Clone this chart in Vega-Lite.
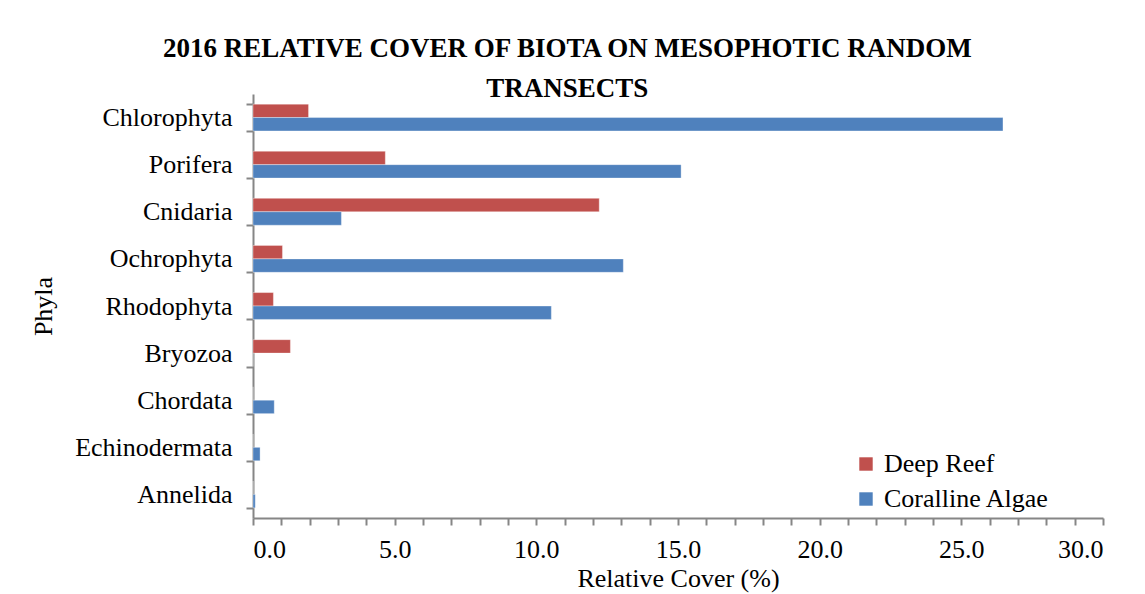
{
  "$schema": "https://vega.github.io/schema/vega-lite/v6.json",
  "width": 850,
  "height": 424,
  "padding": {"left": 30, "top": 35, "right": 10, "bottom": 5},
  "background": "white",
  "title": {
    "text": ["2016 RELATIVE COVER OF BIOTA ON MESOPHOTIC RANDOM", "TRANSECTS"],
    "font": "Liberation Serif, serif",
    "fontSize": 27,
    "fontWeight": "bold",
    "color": "#000000",
    "anchor": "middle",
    "frame": "bounds",
    "lineHeight": 40,
    "offset": -22
  },
  "data": {
    "values": [
      {"phylum": "Chlorophyta", "site": "Deep Reef", "cover": 1.96},
      {"phylum": "Chlorophyta", "site": "Coralline Algae", "cover": 26.47},
      {"phylum": "Porifera", "site": "Deep Reef", "cover": 4.67},
      {"phylum": "Porifera", "site": "Coralline Algae", "cover": 15.11},
      {"phylum": "Cnidaria", "site": "Deep Reef", "cover": 12.22},
      {"phylum": "Cnidaria", "site": "Coralline Algae", "cover": 3.12},
      {"phylum": "Ochrophyta", "site": "Deep Reef", "cover": 1.04},
      {"phylum": "Ochrophyta", "site": "Coralline Algae", "cover": 13.07},
      {"phylum": "Rhodophyta", "site": "Deep Reef", "cover": 0.72},
      {"phylum": "Rhodophyta", "site": "Coralline Algae", "cover": 10.53},
      {"phylum": "Bryozoa", "site": "Deep Reef", "cover": 1.32},
      {"phylum": "Bryozoa", "site": "Coralline Algae", "cover": 0},
      {"phylum": "Chordata", "site": "Deep Reef", "cover": 0},
      {"phylum": "Chordata", "site": "Coralline Algae", "cover": 0.75},
      {"phylum": "Echinodermata", "site": "Deep Reef", "cover": 0},
      {"phylum": "Echinodermata", "site": "Coralline Algae", "cover": 0.25},
      {"phylum": "Annelida", "site": "Deep Reef", "cover": 0},
      {"phylum": "Annelida", "site": "Coralline Algae", "cover": 0.08}
    ]
  },
  "mark": {"type": "bar", "stroke": "#ffffff", "strokeOpacity": 0.35, "strokeWidth": 1},
  "encoding": {
    "y": {
      "field": "phylum",
      "type": "nominal",
      "sort": ["Chlorophyta", "Porifera", "Cnidaria", "Ochrophyta", "Rhodophyta", "Bryozoa", "Chordata", "Echinodermata", "Annelida"],
      "scale": {"paddingInner": 0.43, "paddingOuter": 0.215},
      "axis": {
        "title": "Phyla",
        "tickBand": "extent",
        "tickSize": 7,
        "labelPadding": 14,
        "titlePadding": 18
      }
    },
    "yOffset": {
      "field": "site",
      "type": "nominal",
      "sort": ["Deep Reef", "Coralline Algae"]
    },
    "x": {
      "field": "cover",
      "type": "quantitative",
      "scale": {"domain": [0, 30], "nice": false},
      "axis": {
        "title": "Relative Cover (%)",
        "values": [0,1,2,3,4,5,6,7,8,9,10,11,12,13,14,15,16,17,18,19,20,21,22,23,24,25,26,27,28,29,30],
        "labelExpr": "datum.value % 5 === 0 ? format(datum.value, '.1f') : ''",
        "tickSize": 7,
        "labelPadding": 11,
        "titlePadding": 3,
        "grid": false,
        "labelOverlap": false
      }
    },
    "color": {
      "field": "site",
      "type": "nominal",
      "sort": ["Deep Reef", "Coralline Algae"],
      "scale": {"domain": ["Deep Reef", "Coralline Algae"], "range": ["#C0504D", "#4F81BD"]},
      "legend": {
        "title": null,
        "orient": "none",
        "legendX": 600,
        "legendY": 357,
        "symbolType": "square",
        "symbolSize": 180,
        "symbolStrokeWidth": 0,
        "labelFont": "Liberation Serif, serif",
        "labelFontSize": 26,
        "labelColor": "#000000",
        "labelLimit": 400,
        "rowPadding": 9,
        "labelOffset": 5
      }
    }
  },
  "config": {
    "view": {"stroke": null},
    "axis": {
      "labelFont": "Liberation Serif, serif",
      "labelFontSize": 26,
      "labelColor": "#000000",
      "titleFont": "Liberation Serif, serif",
      "titleFontSize": 26,
      "titleFontWeight": "normal",
      "titleColor": "#000000",
      "domainColor": "#868686",
      "domainWidth": 2,
      "tickColor": "#868686",
      "tickWidth": 2
    }
  }
}
